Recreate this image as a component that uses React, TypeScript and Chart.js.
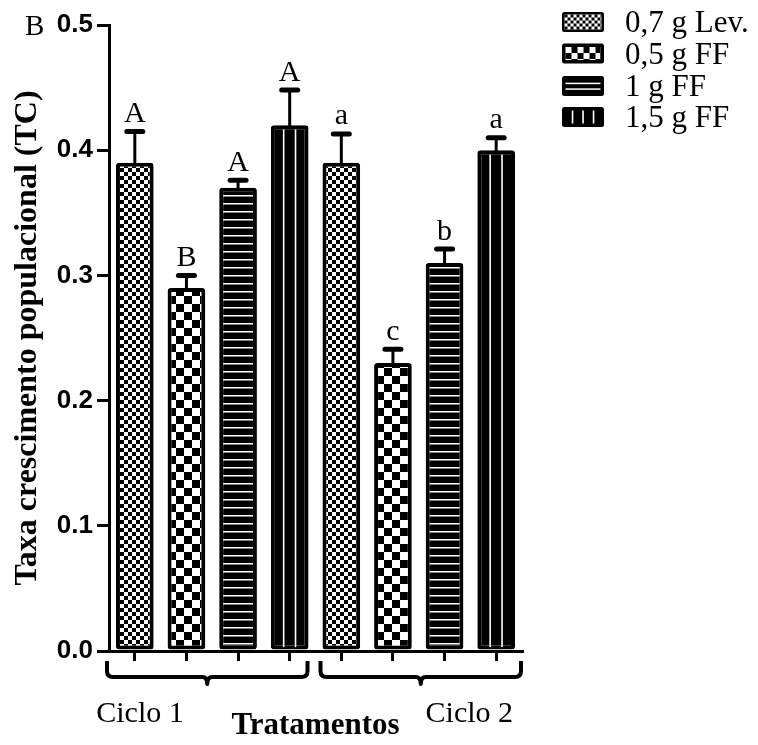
import React, { useEffect, useRef } from 'react';
import { Chart, registerables } from 'chart.js';

Chart.register(...registerables);

// ---- data ----
const categories = ['0,7 g Lev. (C1)', '0,5 g FF (C1)', '1 g FF (C1)', '1,5 g FF (C1)', '0,7 g Lev. (C2)', '0,5 g FF (C2)', '1 g FF (C2)', '1,5 g FF (C2)'];
const values = [0.39, 0.29, 0.37, 0.42, 0.39, 0.23, 0.31, 0.40];
const errors = [0.025, 0.010, 0.006, 0.028, 0.023, 0.011, 0.011, 0.010];
const letters = ['A', 'B', 'A', 'A', 'a', 'c', 'b', 'a'];
const treatments = ['0,7 g Lev.', '0,5 g FF', '1 g FF', '1,5 g FF'];
const groups = ['Ciclo 1', 'Ciclo 2'];
const groupLabelIndex = [0.1, 6.48];
const panelLabel = 'B';
const yTitle = 'Taxa crescimento populacional (TC)';
const xTitle = 'Tratamentos';

const SERIF = '"Liberation Serif", "Times New Roman", serif';
const SANS = '"Liberation Sans", Arial, sans-serif';

function makeBarPattern(kind: number): CanvasPattern | string {
  const c = document.createElement('canvas');
  const g = c.getContext('2d') as CanvasRenderingContext2D;
  if (kind === 0) {
    c.width = 8; c.height = 8;
    g.fillStyle = '#fff'; g.fillRect(0, 0, 8, 8);
    g.fillStyle = '#000'; g.fillRect(0, 0, 4, 4); g.fillRect(4, 4, 4, 4);
  } else if (kind === 1) {
    c.width = 16; c.height = 16;
    g.fillStyle = '#fff'; g.fillRect(0, 0, 16, 16);
    g.fillStyle = '#000'; g.fillRect(0, 0, 8, 8); g.fillRect(8, 8, 8, 8);
  } else if (kind === 2) {
    c.width = 8; c.height = 8;
    g.fillStyle = '#000'; g.fillRect(0, 0, 8, 8);
    g.fillStyle = '#fff'; g.fillRect(0, 3, 8, 1.5);
  } else {
    return '#000';
  }
  return g.createPattern(c, 'repeat') as CanvasPattern;
}

function drawSwatch(ctx: CanvasRenderingContext2D, kind: number, x: number, y: number, w: number, h: number) {
  ctx.save();
  ctx.fillStyle = '#000';
  ctx.beginPath();
  (ctx as any).roundRect(x, y, w, h, 2.5);
  ctx.fill();
  const ix = x + 2.5, iy = y + 2.5, iw = w - 5, ih = h - 5;
  if (kind === 0) {
    const cell = 3;
    ctx.fillStyle = '#fff';
    ctx.fillRect(ix, iy, iw, ih);
    ctx.fillStyle = '#000';
    for (let r = 0; r * cell < ih; r++) {
      for (let q = 0; q * cell < iw; q++) {
        if ((r + q) % 2 === 0) ctx.fillRect(ix + q * cell, iy + r * cell, Math.min(cell, iw - q * cell), Math.min(cell, ih - r * cell));
      }
    }
  } else if (kind === 1) {
    const cell = 6;
    ctx.fillStyle = '#fff';
    ctx.fillRect(ix + 1, iy + 1, iw - 2, ih - 2);
    ctx.fillStyle = '#000';
    for (let r = 0; r * cell < ih; r++) {
      for (let q = 0; q * cell < iw; q++) {
        if ((r + q) % 2 === 1) ctx.fillRect(ix + 1 + q * cell, iy + 1 + r * cell, Math.min(cell, iw - 2 - q * cell), Math.min(cell, ih - 2 - r * cell));
      }
    }
  } else if (kind === 2) {
    ctx.fillStyle = '#fff';
    ctx.fillRect(ix + 1, y + h / 3, iw - 2, 1.5);
    ctx.fillRect(ix + 1, y + (2 * h) / 3 - 1, iw - 2, 1.5);
  } else {
    ctx.fillStyle = '#fff';
    for (let k = 1; k <= 3; k++) ctx.fillRect(x + (w * k) / 4 - 0.75, iy + 1, 1.6, ih - 2);
  }
  ctx.restore();
}

const overlayPlugin = {
  id: 'overlayPlugin',
  afterDatasetsDraw(chart: any) {
    const ctx: CanvasRenderingContext2D = chart.ctx;
    const meta = chart.getDatasetMeta(0);
    const yScale = chart.scales.y;
    ctx.save();
    meta.data.forEach((el: any, i: number) => {
      const p = el.getProps(['x', 'y', 'base', 'width'], true);
      if (i % 4 === 3) {
        const left = p.x - p.width / 2;
        ctx.strokeStyle = '#fff';
        ctx.lineWidth = 1.6;
        [0.34, 0.655].forEach((f) => {
          ctx.beginPath();
          ctx.moveTo(left + p.width * f, p.y + 5);
          ctx.lineTo(left + p.width * f, p.base - 3);
          ctx.stroke();
        });
      }
      const yTop = yScale.getPixelForValue(values[i] + errors[i]);
      ctx.strokeStyle = '#000';
      ctx.lineWidth = 3;
      ctx.lineCap = 'butt';
      ctx.beginPath();
      ctx.moveTo(p.x, p.y + 2);
      ctx.lineTo(p.x, yTop);
      ctx.stroke();
      ctx.lineWidth = 5;
      ctx.lineCap = 'round';
      ctx.beginPath();
      ctx.moveTo(p.x - 8, yTop);
      ctx.lineTo(p.x + 8, yTop);
      ctx.stroke();
      ctx.fillStyle = '#000';
      ctx.font = `30px ${SERIF}`;
      ctx.textAlign = 'center';
      ctx.textBaseline = 'alphabetic';
      ctx.fillText(letters[i], p.x, yTop - 9.5);
    });
    ctx.restore();
  },
  afterDraw(chart: any) {
    const ctx: CanvasRenderingContext2D = chart.ctx;
    const xs = chart.scales.x;
    const area = chart.chartArea;
    ctx.save();
    // braces
    const yTop = area.bottom + 10;
    const yH = area.bottom + 26;
    const tipY = area.bottom + 33;
    const braces = [
      [xs.getPixelForValue(-0.5) - 2, xs.getPixelForValue(3.5) - 8],
      [xs.getPixelForValue(3.5) + 5, xs.getPixelForValue(7.5) - 1],
    ];
    ctx.strokeStyle = '#000';
    ctx.lineWidth = 4;
    ctx.lineCap = 'butt';
    ctx.lineJoin = 'round';
    braces.forEach(([xL, xR]) => {
      const mid = (xL + xR) / 2;
      const r = 6;
      ctx.beginPath();
      ctx.moveTo(xL, yTop);
      ctx.lineTo(xL, yH - r);
      ctx.quadraticCurveTo(xL, yH, xL + r, yH);
      ctx.lineTo(mid - 5, yH);
      ctx.quadraticCurveTo(mid, yH, mid, tipY);
      ctx.quadraticCurveTo(mid, yH, mid + 5, yH);
      ctx.lineTo(xR - r, yH);
      ctx.quadraticCurveTo(xR, yH, xR, yH - r);
      ctx.lineTo(xR, yTop);
      ctx.stroke();
    });
    // group labels
    ctx.fillStyle = '#000';
    ctx.font = `30px ${SERIF}`;
    ctx.textAlign = 'center';
    ctx.textBaseline = 'alphabetic';
    groups.forEach((g, k) => {
      ctx.fillText(g, xs.getPixelForValue(groupLabelIndex[k]), area.bottom + 71);
    });
    // panel label
    ctx.textAlign = 'left';
    ctx.font = `29px ${SERIF}`;
    ctx.fillText(panelLabel, 25, 35);
    // legend
    const lx = area.right + 40;
    const centers = [22, 53.5, 86, 117];
    treatments.forEach((t, k) => {
      drawSwatch(ctx, k, lx, centers[k] - 10, 42, 20);
      ctx.fillStyle = '#000';
      ctx.font = `31px ${SERIF}`;
      ctx.textAlign = 'left';
      ctx.textBaseline = 'alphabetic';
      ctx.fillText(t, lx + 63, centers[k] + 10);
    });
    ctx.restore();
  },
};

export default function App() {
  const ref = useRef<HTMLCanvasElement | null>(null);
  useEffect(() => {
    const canvas = ref.current;
    if (!canvas) return;
    const patterns = [0, 1, 2, 3].map((k) => makeBarPattern(k));
    const chart = new Chart(canvas, {
      type: 'bar',
      data: {
        labels: categories,
        datasets: [
          {
            data: values,
            backgroundColor: values.map((_, i) => patterns[i % 4]) as any,
            borderColor: '#000',
            borderWidth: 4,
            borderRadius: 3,
            borderSkipped: false,
            categoryPercentage: 1,
            barPercentage: 0.73,
          },
        ],
      },
      options: {
        responsive: false,
        animation: false,
        layout: { padding: { left: 0, right: 236, top: 25, bottom: 0 } },
        plugins: { legend: { display: false }, tooltip: { enabled: false } },
        scales: {
          x: {
            type: 'category',
            offset: true,
            grid: { display: true, drawOnChartArea: false, drawTicks: true, tickLength: 10, color: '#000', lineWidth: 3, offset: false },
            border: { display: true, color: '#000', width: 3 },
            ticks: { display: false },
            title: {
              display: true,
              text: xTitle,
              color: '#000',
              font: { family: SERIF, size: 31, weight: 'bold' },
              padding: { top: 0, bottom: 0 },
            },
            afterFit(s: any) { s.height = 94; },
          },
          y: {
            min: 0,
            max: 0.5,
            ticks: {
              stepSize: 0.1,
              callback: (v: any) => Number(v).toFixed(1),
              color: '#000',
              font: { family: SANS, size: 26, weight: 'bold' },
              padding: 4,
            },
            grid: { drawOnChartArea: false, drawTicks: true, tickLength: 12, color: '#000', lineWidth: 3 },
            border: { display: true, color: '#000', width: 3 },
            title: {
              display: true,
              text: yTitle,
              color: '#000',
              font: { family: SERIF, size: 32, weight: 'bold' },
              padding: { top: 9, bottom: 0 },
            },
            afterFit(s: any) { s.width = 109; },
          },
        },
      } as any,
      plugins: [overlayPlugin],
    });
    return () => chart.destroy();
  }, []);
  return (
    <div style={{ position: 'fixed', left: 0, top: 0, width: 758, height: 745, background: '#fff' }}>
      <canvas ref={ref} width={758} height={745} style={{ display: 'block', width: 758, height: 745 }} />
    </div>
  );
}
